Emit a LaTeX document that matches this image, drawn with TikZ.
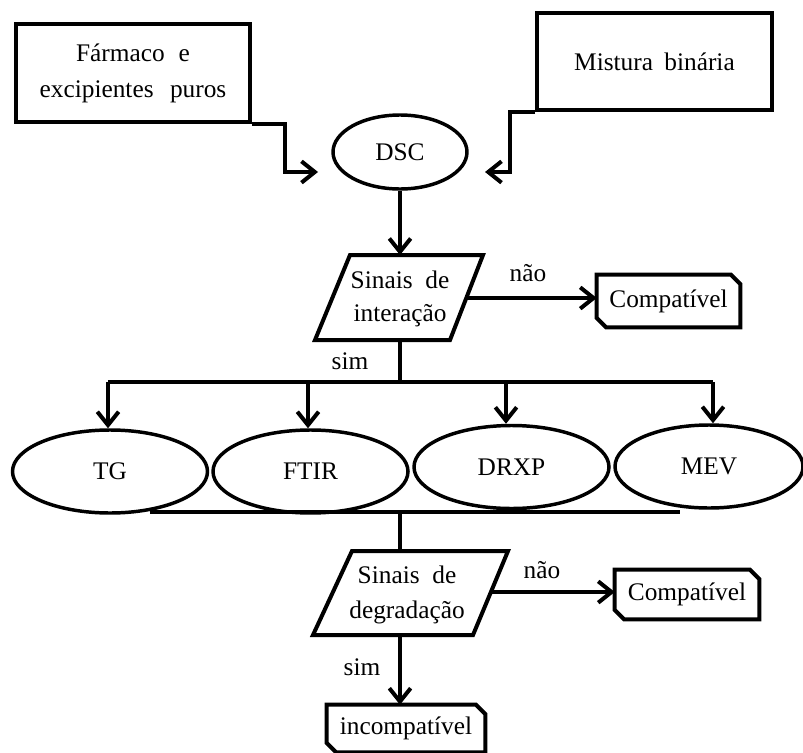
\documentclass[tikz,border=0pt]{standalone}
\usepackage{fontspec}
\setmainfont{Liberation Serif}
\usetikzlibrary{arrows.meta,shapes.geometric}
\newcommand\chamferbox[1]{\draw[line width=3pt, line join=miter] ([xshift=-7pt]#1.north east) -- (#1.north west) -- ([yshift=7pt]#1.south west) -- ([xshift=7pt]#1.south west) -- (#1.south east) -- ([yshift=-7pt]#1.north east) -- cycle;}
\begin{document}
\begin{tikzpicture}[x=0.75pt,y=-0.75pt,
  txt/.style={font=\fontsize{19}{24}\selectfont, inner sep=0pt, align=center, text=black},
  inbox/.style={txt, draw, rectangle, line width=3pt, line join=miter},
  oval/.style={txt, draw, ellipse, line width=2.6pt, minimum width=146.25pt, minimum height=62.25pt},
  outbox/.style={txt, rectangle},
  line/.style={line width=3pt, line join=miter},
  arr/.style={line, -{Straight Barb[length=10pt,width=16pt]}},
  lbl/.style={txt}
]
\useasboundingbox (0,0) rectangle (803,753);

% inputs
\node[inbox, minimum width=175.5pt, minimum height=73.5pt, font=\fontsize{19}{27}\selectfont] (farm) at (133,73) {Fármaco\hspace{0.55em}e\\excipientes\hspace{0.65em}puros};
\node[inbox, minimum width=176.25pt, minimum height=72.75pt] (mist) at (654.5,61.5) {Mistura\hspace{0.45em}binária};
\node[oval, minimum width=100.5pt, minimum height=55.5pt] (dsc) at (400,152) {DSC};

\coordinate (dscl) at (318,172);
\coordinate (dscr) at (485,172);
\draw[arr] (farm.south east) -- ++(33,0) |- (dscl);
\draw[arr] (mist.south west) -- ++(-25,0) |- (dscr);

% first decision
\coordinate (p1tl) at (350,255);
\coordinate (p1tr) at (483,255);
\coordinate (p1br) at (450,340);
\coordinate (p1bl) at (315,340);
\draw[line] (p1tl) -- (p1tr) -- (p1br) -- (p1bl) -- cycle;
\node[txt, font=\fontsize{19}{24.75}\selectfont] (p1) at (400,298.5) {Sinais\hspace{0.5em}de\\interação};
\draw[arr] (dsc.south) -- (dsc.south |- p1tl);

\node[outbox, minimum width=107.25pt, minimum height=39pt] (c1) at (668.5,301) {Compatível};
\chamferbox{c1}
\coordinate (p1r) at (466,298);
\draw[arr] (p1r) -- (p1r -| c1.west);
\node[lbl] (nao1) at (528,273) {não};

% branch bar
\coordinate (p1b) at (400,340);
\coordinate (bar) at (400,382);
\draw[line] (p1b) -- (bar);
\node[lbl] (sim1) at (350,361) {sim};

\node[oval] (tg) at (110,471.5) {TG};
\node[oval] (ftir) at (310.5,471.5) {FTIR};
\node[oval] (drxp) at (511.5,467) {DRXP};
\node[oval, minimum width=141pt] (mev) at (709,466.5) {MEV};

\coordinate (bl) at (108,382);
\coordinate (a2) at (308,382);
\coordinate (a3) at (506,382);
\coordinate (br) at (713,382);
\draw[line] (bl) -- (br);
\draw[arr] (bl) -- (bl |- tg.north);
\draw[arr] (a2) -- (a2 |- ftir.north);
\draw[arr] (a3) -- (a3 |- drxp.north);
\draw[arr] (br) -- (br |- mev.north);

% join bar
\coordinate (bb1) at (150,511.5);
\coordinate (bb2) at (680,511.5);
\coordinate (bm) at (400,511.5);
\draw[line] (bb1) -- (bb2);

% second decision
\coordinate (p2tl) at (352,551);
\coordinate (p2tr) at (508,551);
\coordinate (p2br) at (473,635);
\coordinate (p2bl) at (313,635);
\draw[line] (p2tl) -- (p2tr) -- (p2br) -- (p2bl) -- cycle;
\node[txt, font=\fontsize{19}{26.25}\selectfont] (p2) at (407,594.5) {Sinais\hspace{0.5em}de\\degradação};
\draw[line] (bm) -- (bm |- p2tl);

\node[outbox, minimum width=108pt, minimum height=36.75pt] (c2) at (687,594.5) {Compatível};
\chamferbox{c2}
\coordinate (p2r) at (491,592);
\draw[arr] (p2r) -- (p2r -| c2.west);
\node[lbl] (nao2) at (542,570) {não};

\node[outbox, minimum width=118.5pt, minimum height=35.25pt] (inc) at (406,728.5) {incompatível};
\chamferbox{inc}
\coordinate (p2b) at (400,635);
\draw[arr] (p2b) -- (p2b |- inc.north);
\node[lbl] (sim2) at (362,667) {sim};
\end{tikzpicture}
\end{document}
